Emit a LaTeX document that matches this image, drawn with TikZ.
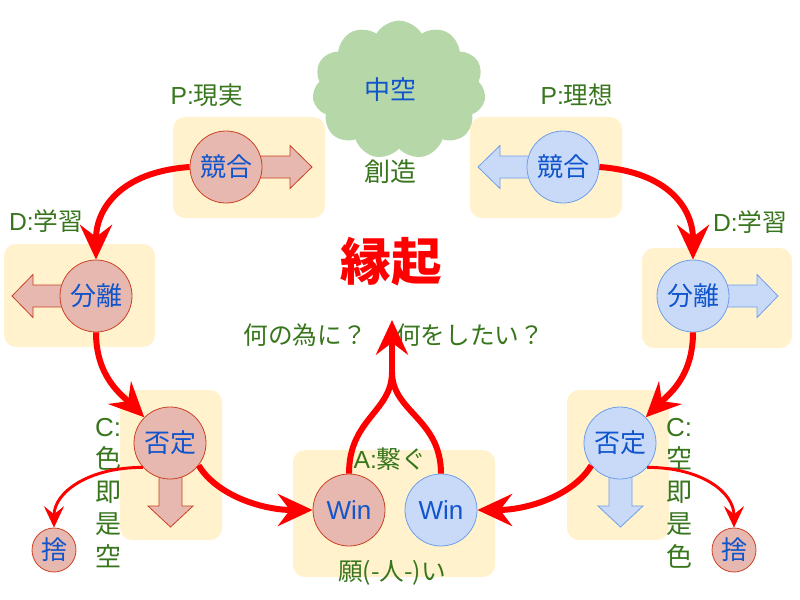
\documentclass[tikz,border=0pt]{standalone}
\usepackage{fontspec}
\setmainfont{Noto Sans CJK JP}
\newfontfamily\lat{Liberation Sans}
\usetikzlibrary{shapes.symbols,arrows.meta}
\definecolor{boxY}{HTML}{FFF2CC}
\definecolor{pinkF}{HTML}{E6B8AF}
\definecolor{pinkD}{HTML}{CC4125}
\definecolor{blueF}{HTML}{C9DAF8}
\definecolor{blueD}{HTML}{6D9EEB}
\definecolor{cloudG}{HTML}{B6D7A8}
\definecolor{txtG}{HTML}{38761D}
\definecolor{txtB}{HTML}{1155CC}
\begin{document}
\begin{tikzpicture}[x=0.75pt,y=-0.75pt,
  panel/.style={fill=boxY, rounded corners=9pt},
  pcirc/.style={circle, fill=pinkF, draw=pinkD, line width=0.6pt, minimum size=54pt, inner sep=0pt, text=txtB, font=\fontsize{19.5}{21}\selectfont},
  bcirc/.style={circle, fill=blueF, draw=blueD, line width=0.6pt, minimum size=54pt, inner sep=0pt, text=txtB, font=\fontsize{19.5}{21}\selectfont},
  smallcirc/.style={pcirc, minimum size=33pt},
  pblock/.style={fill=pinkF, draw=pinkD, line width=0.6pt, line join=miter},
  bblock/.style={fill=blueF, draw=blueD, line width=0.6pt, line join=miter},
  lbl/.style={text=txtG, font=\fontsize{18.5}{20}\selectfont, inner sep=0pt},
  vlbl/.style={text=txtG, font=\fontsize{19.5}{24.4}\selectfont, align=center, inner sep=0pt},
  bigarrow/.style={draw=red, line width=4.5pt, -{Stealth[length=26pt,width=24pt,inset=9pt]}},
  bigline/.style={draw=red, line width=4.5pt},
  thinarrow/.style={draw=red, line width=2.2pt, -{Stealth[length=16pt,width=15pt,inset=6pt]}}
]
\useasboundingbox (0,0) rectangle (800,600);

% panels
\path[panel] (173,117) rectangle (325,218);
\path[panel] (470,117) rectangle (622,218);
\path[panel] (4,244) rectangle (155,347);
\path[panel] (642,248) rectangle (792,348);
\path[panel] (120,390) rectangle (222,540);
\path[panel] (567,390) rectangle (669,540);
\path[panel] (293,450) rectangle (495,577);

% cloud
\node[cloud, cloud puffs=11, cloud puff arc=120, aspect=1.25, fill=cloudG,
      minimum width=130pt, minimum height=104pt, inner sep=0pt] (cloud) at (399,90) {};
\node[text=txtB, font=\fontsize{19.5}{21}\selectfont] (chuku) at (390,90) {中空};
\node[lbl, font=\fontsize{19.5}{21}\selectfont] (sozo) at (390,172) {創造};

% block arrows
\draw[pblock] (226,156) -- (290,156) -- (290,145.5) -- (312,167) -- (290,188.5) -- (290,178) -- (226,178) -- cycle;
\draw[bblock] (563,156) -- (500,156) -- (500,145.5) -- (478,167) -- (500,188.5) -- (500,178) -- (563,178) -- cycle;
\draw[pblock] (96,285) -- (33,285) -- (33,274.5) -- (12,296) -- (33,317.5) -- (33,307) -- (96,307) -- cycle;
\draw[bblock] (693,285) -- (757,285) -- (757,274.5) -- (778,296) -- (757,317.5) -- (757,307) -- (693,307) -- cycle;
\draw[pblock] (159,443) -- (159,506) -- (148,506) -- (170.5,527) -- (193,506) -- (182,506) -- (182,443) -- cycle;
\draw[bblock] (609,443) -- (609,506) -- (598,506) -- (620.5,527) -- (643,506) -- (632,506) -- (632,443) -- cycle;

% circles
\node[pcirc] (kL) at (226,167) {競合};
\node[bcirc] (kR) at (563,167) {競合};
\node[pcirc] (bL) at (96,296) {分離};
\node[bcirc] (bR) at (693,296) {分離};
\node[pcirc] (nL) at (170,443) {否定};
\node[bcirc] (nR) at (620,443) {否定};
\node[pcirc] (wL) at (349,510) {\lat Win};
\node[bcirc] (wR) at (441,510) {\lat Win};
\node[smallcirc] (sL) at (54,550) {捨};
\node[smallcirc] (sR) at (734,550) {捨};

% labels
\node[lbl] (pl) at (207,95) {{\lat P:}現実};
\node[lbl] (pr) at (577,95) {{\lat P:}理想};
\node[lbl] (dl) at (46,221) {{\lat D:}学習};
\node[lbl] (dr) at (750,222) {{\lat D:}学習};
\node[vlbl] (cl) at (108,493) {{\lat C:}\\色\\即\\是\\空};
\node[vlbl] (cr) at (679,493) {{\lat C:}\\空\\即\\是\\色};
\node[lbl] (an) at (390,459) {{\lat A:}繋ぐ};
\node[lbl] (ne) at (392,573) {願(-人-)い};
\node[text=red, font=\fontsize{38}{40}\selectfont\bfseries] (engi) at (391,262) {縁起};
\node[lbl] (q1) at (305,335) {何の為に？};
\node[lbl] (q2) at (470,335) {何をしたい？};

% connectors
\draw[bigarrow] (kL.west) .. controls +(-70,5) and +(0,-50) .. (bL.north);
\draw[bigarrow] (bL.south) .. controls +(0,45) and +(-22,-22) .. (nL.135);
\draw[bigarrow] (nL.-38) .. controls +(18,30) and +(-50,0) .. (wL.west);
\draw[bigarrow] (kR.east) .. controls +(70,5) and +(0,-50) .. (bR.north);
\draw[bigarrow] (bR.south) .. controls +(0,45) and +(22,-22) .. (nR.45);
\draw[bigarrow] (nR.218) .. controls +(-18,30) and +(50,0) .. (wR.east);
\draw[thinarrow] (nL.222) .. controls +(-55,0) and +(0,-35) .. (sL.north);
\draw[thinarrow] (nR.-42) .. controls +(55,0) and +(0,-35) .. (sR.north);

\coordinate (merge) at (392,372);
\coordinate (up) at (392,320);
\draw[bigline] (wL.north) .. controls +(0,-55) and +(0,40) .. (merge);
\draw[bigline] (wR.north) .. controls +(0,-55) and +(0,40) .. (merge);
\draw[bigarrow] (merge) -- (up);
\end{tikzpicture}
\end{document}
